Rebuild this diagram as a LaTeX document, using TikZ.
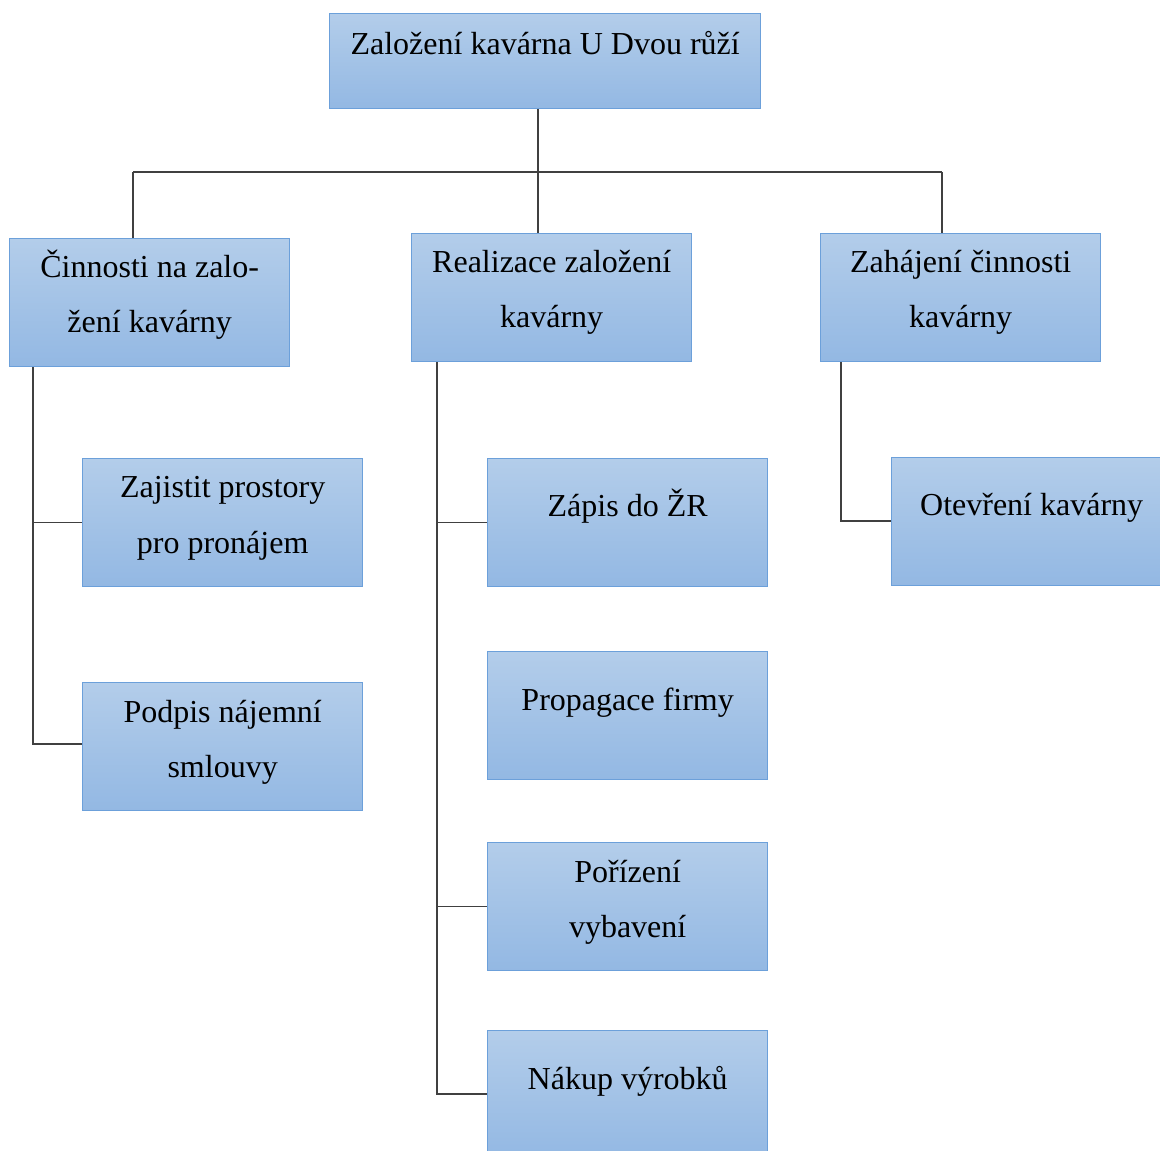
\documentclass[tikz,border=0pt]{standalone}
\usepackage{fontspec}
\setmainfont{Liberation Serif}
\definecolor{boxtop}{HTML}{B3CDEA}
\definecolor{boxbot}{HTML}{93B8E3}
\definecolor{boxline}{HTML}{6CA0DA}
\definecolor{conn}{HTML}{404040}
\tikzset{
  wbox/.style={draw=boxline, line width=1pt, top color=boxtop, bottom color=boxbot,
    rectangle, inner sep=0pt, anchor=north west, minimum width=280*0.75pt, minimum height=128*0.75pt},
  wtxt/.style={font=\fontsize{24}{41.25}\selectfont, align=center, inner sep=0pt, anchor=base},
  wline/.style={draw=conn, line width=1.1pt}
}
\begin{document}
\begin{tikzpicture}[x=0.75pt, y=-0.75pt]
\useasboundingbox (0,0) rectangle (1160,1151);
\clip (0,0) rectangle (1160,1151);
% boxes
\node[wbox, minimum width=431*0.75pt, minimum height=95*0.75pt] (top) at (329,13) {};
\node[wbox] (c1) at (9,238) {};
\node[wbox] (c2) at (411,233) {};
\node[wbox] (c3) at (820,233) {};
\node[wbox] (l1) at (82,458) {};
\node[wbox] (l2) at (82,682) {};
\node[wbox] (m1) at (487,458) {};
\node[wbox] (m2) at (487,651) {};
\node[wbox] (m3) at (487,842) {};
\node[wbox] (m4) at (487,1030) {};
\node[wbox, minimum width=280*0.75pt] (r1) at (891,457) {};
% texts
\node[wtxt] (ttop) at ([yshift=-42*0.75pt]top.north) {Založení kavárna U Dvou růží};
\node[wtxt] (tc1a) at ([yshift=-40*0.75pt]c1.north) {Činnosti na zalo-};
\node[wtxt] (tc1b) at ([yshift=-95*0.75pt]c1.north) {žení kavárny};
\node[wtxt] (tc2a) at ([yshift=-40*0.75pt]c2.north) {Realizace založení};
\node[wtxt] (tc2b) at ([yshift=-95*0.75pt]c2.north) {kavárny};
\node[wtxt] (tc3a) at ([yshift=-40*0.75pt]c3.north) {Zahájení činnosti};
\node[wtxt] (tc3b) at ([yshift=-95*0.75pt]c3.north) {kavárny};
\node[wtxt] (tl1a) at ([yshift=-40*0.75pt]l1.north) {Zajistit prostory};
\node[wtxt] (tl1b) at ([yshift=-95*0.75pt]l1.north) {pro pronájem};
\node[wtxt] (tl2a) at ([yshift=-40*0.75pt]l2.north) {Podpis nájemní};
\node[wtxt] (tl2b) at ([yshift=-95*0.75pt]l2.north) {smlouvy};
\node[wtxt] (tm1) at ([yshift=-59*0.75pt]m1.north) {Zápis do ŽR};
\node[wtxt] (tm2) at ([yshift=-59*0.75pt]m2.north) {Propagace firmy};
\node[wtxt] (tm3a) at ([yshift=-40*0.75pt]m3.north) {Pořízení};
\node[wtxt] (tm3b) at ([yshift=-95*0.75pt]m3.north) {vybavení};
\node[wtxt] (tm4) at ([yshift=-59*0.75pt]m4.north) {Nákup výrobků};
\node[wtxt] (tr1) at ([yshift=-59*0.75pt]r1.north) {Otevření kavárny};
% connector junctions
\coordinate (bl) at (133,172);
\coordinate (bm) at (538,172);
\coordinate (br) at (942,172);
\coordinate (sl) at (33,744);
\coordinate (sm) at (437,1094);
\coordinate (sr) at (841,521);
% top level
\draw[wline] (top.south -| bm) -- (bm);
\draw[wline] (bl) -- (br);
\draw[wline] (bl) -- (bl |- c1.north);
\draw[wline] (bm) -- (bm |- c2.north);
\draw[wline] (br) -- (br |- c3.north);
% left spine
\draw[wline] (c1.south -| sl) -- (sl) -- (sl -| l2.west);
\draw[wline] (l1.west -| sl) -- (l1.west);
% middle spine
\draw[wline] (c2.south -| sm) -- (sm) -- (sm -| m4.west);
\draw[wline] (m1.west -| sm) -- (m1.west);
\draw[wline] (m3.west -| sm) -- (m3.west);
% right spine
\draw[wline] (c3.south -| sr) -- (sr) -- (sr -| r1.west);
\end{tikzpicture}
\end{document}
